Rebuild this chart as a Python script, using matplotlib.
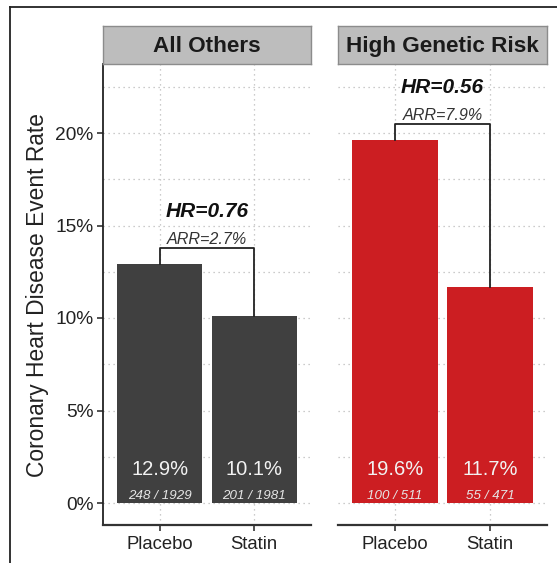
# statin benefit by genetic risk group, two facet panels

import numpy as np
import matplotlib.pyplot as plt
from matplotlib.lines import Line2D

plt.rcParams['font.family'] = ['Liberation Sans', 'DejaVu Sans']

groups = ["All Others", "High Genetic Risk"]
arms = ["Placebo", "Statin"]
rates = [[12.9, 10.1], [19.6, 11.7]]
events = [[248, 201], [100, 55]]
totals = [[1929, 1981], [511, 471]]
hr = [0.76, 0.56]
arr = [2.7, 7.9]
colors = ["#404040", "#CC1E22"]
yticks = [0, 5, 10, 15, 20]

W, H = 557, 563
fig = plt.figure(figsize=(W / 100, H / 100), dpi=100)


def px_rect(x0, y0, x1, y1):
    return [x0 / W, 1 - y1 / H, (x1 - x0) / W, (y1 - y0) / H]


# outer frame
fig.add_artist(Line2D([10 / W, 10 / W], [0, 1 - 7 / H], color="#222222", lw=1.3,
                      transform=fig.transFigure))
fig.add_artist(Line2D([10 / W, 1], [1 - 7 / H, 1 - 7 / H], color="#222222", lw=1.3,
                      transform=fig.transFigure))

panel_x = [(103, 311), (338, 547)]
y_top, y_bot = 64, 525
zero_px, px_per = 503, 18.5
ylo = -(y_bot - zero_px) / px_per
yhi = (zero_px - y_top) / px_per

for i, g in enumerate(groups):
    x0, x1 = panel_x[i]
    ax = fig.add_axes(px_rect(x0, y_top, x1, y_bot))
    ax.set_xlim(-0.6, 1.6)
    ax.set_ylim(ylo, yhi)

    # grid, major + minor, dotted
    for yv in np.arange(0, 25, 2.5):
        ax.axhline(yv, color="#BBBBBB", lw=0.9, ls=(0, (1, 3)), zorder=0)
    for xv in [0, 1]:
        ax.axvline(xv, color="#BBBBBB", lw=0.9, ls=(0, (1, 3)), zorder=0)

    pos = np.arange(len(arms))
    ax.bar(pos, rates[i], width=0.9, color=colors[i], zorder=2)

    for j in range(len(arms)):
        ax.text(pos[j], 1.8, f"{rates[i][j]:.1f}%", ha="center", va="center",
                color="#F2F2F2", fontsize=14.5, zorder=3)
        ax.text(pos[j], 0.4, f"{events[i][j]} / {totals[i][j]}", ha="center",
                va="center", color="#E6E6E6", fontsize=9.6, style="italic", zorder=3)

    # bracket with HR / ARR
    top = max(rates[i]) + 0.9
    ax.plot([0, 0, 1, 1], [rates[i][0], top, top, rates[i][1]], color="#222222",
            lw=1.3, zorder=3)
    ax.text(0.5, top + 0.45, f"ARR={arr[i]}%", ha="center", va="center",
            fontsize=11.6, style="italic", color="#333333")
    ax.text(0.5, top + 1.95, f"HR={hr[i]}", ha="center", va="center",
            fontsize=15, style="italic", weight="bold", color="#111111")

    ax.set_xticks(pos)
    ax.set_xticklabels(arms, fontsize=13.3, color="#222222")
    ax.set_yticks(yticks)
    for sp in ["top", "right"]:
        ax.spines[sp].set_visible(False)
    ax.spines["bottom"].set_color("#333333")
    ax.spines["bottom"].set_linewidth(1.6)
    ax.tick_params(axis="x", length=4, width=1.2, color="#333333", pad=4)
    if i == 0:
        ax.set_yticklabels([f"{v}%" for v in yticks], fontsize=13.8, color="#222222")
        ax.spines["left"].set_color("#222222")
        ax.spines["left"].set_linewidth(1.3)
        ax.tick_params(axis="y", length=4, width=1.2, color="#333333", pad=3)
        ax.set_ylabel("Coronary Heart Disease Event Rate", fontsize=16.4,
                      color="#222222", labelpad=4)
    else:
        ax.spines["left"].set_visible(False)
        ax.tick_params(axis="y", left=False, labelleft=False)

    # facet strip
    sx = fig.add_axes(px_rect(x0, 26, x1, 64))
    sx.set_xticks([])
    sx.set_yticks([])
    sx.set_facecolor("#BDBDBD")
    for sp in sx.spines.values():
        sp.set_color("#8C8C8C")
        sp.set_linewidth(1)
    sx.text(0.5, 0.47, g, ha="center", va="center", fontsize=16.2, weight="bold",
            color="#1A1A1A", transform=sx.transAxes)

fig.savefig("out.png", dpi=100)
